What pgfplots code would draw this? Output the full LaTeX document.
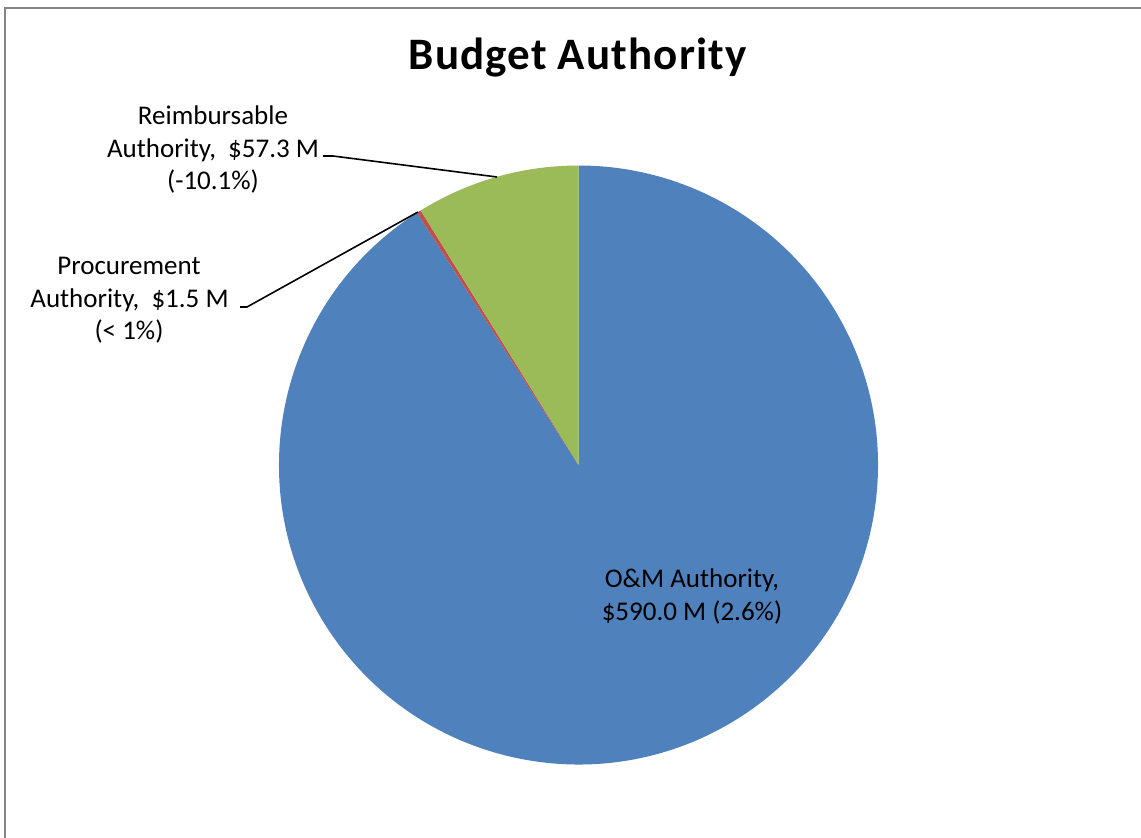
\documentclass[border=0pt]{standalone}
\usepackage{pgfplots}
\pgfplotsset{compat=1.18}
\usepackage{fontspec}
\setmainfont{Carlito}
\newfontfamily\titlefont[LetterSpace=2.5]{Carlito}
\definecolor{omblue}{HTML}{4F81BD}
\definecolor{prred}{HTML}{C0504D}
\definecolor{regreen}{HTML}{9BBB59}
\definecolor{framegray}{HTML}{868686}
% slice values (million $)
\def\vOM{590.0}
\def\vPr{1.5}
\def\vRe{57.3}
\pgfmathsetmacro{\tot}{\vOM+\vPr+\vRe}
\pgfmathsetmacro{\aRe}{90+360*(\vRe/\tot)}
\pgfmathsetmacro{\aPr}{\aRe+360*(\vPr/\tot)}
\begin{document}
\begin{tikzpicture}
\useasboundingbox (0,0) rectangle (570.5pt,418.5pt);
\fill[white] (0,0) rectangle (570.5pt,418.5pt);
\begin{axis}[at={(289.25pt,186pt)}, anchor=origin,
  x=149.75pt, y=149.75pt, xmin=-1, xmax=1, ymin=-1, ymax=1,
  hide axis, clip=false]
\fill[omblue] (axis cs:0,0) -- (axis cs:{cos(\aPr)},{sin(\aPr)}) arc[start angle=\aPr, end angle=450, radius=149.75pt] -- cycle;
\fill[prred] (axis cs:0,0) -- (axis cs:{cos(\aRe)},{sin(\aRe)}) arc[start angle=\aRe, end angle=\aPr, radius=149.75pt] -- cycle;
\fill[regreen] (axis cs:0,0) -- (axis cs:0,1) arc[start angle=90, end angle=\aRe, radius=149.75pt] -- cycle;
\end{axis}
\begin{scope}[x=0.5pt, y=-0.5pt, yshift=418.5pt]
\draw[framegray, line width=1pt] (1145,8) -- (5,8) -- (5,845);
\node[anchor=base, inner sep=0pt, font=\titlefont\fontsize{22.5}{27}\selectfont\bfseries] at (577.5,70) {Budget Authority};
\begin{scope}[every node/.style={anchor=base, inner sep=0pt, font=\fontsize{13.5}{16}\selectfont}]
\node at (213,125) {Reimbursable};
\node at (213,157.5) {Authority,\ \ \$57.3 M};
\node at (213,190) {(-10.1\%)};
\node at (129,275) {Procurement};
\node at (129.5,308) {Authority,\ \ \$1.5 M};
\node at (129,340) {(< 1\%)};
\node at (692,587) {O\&M Authority,};
\node at (692,620) {\$590.0 M (2.6\%)};
\end{scope}
\draw[black, line width=0.8pt] (323,156) -- (333,156) -- (497,177);
\draw[black, line width=0.8pt] (240,307) -- (247,307) -- (418,212);
\end{scope}
\end{tikzpicture}
\end{document}
